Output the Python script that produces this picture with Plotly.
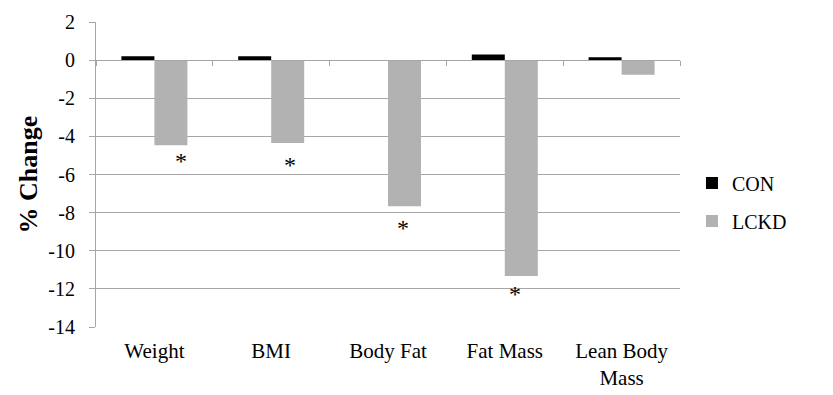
import plotly.graph_objects as go

categories = ["Weight", "BMI", "Body Fat", "Fat Mass", "Lean Body<br>Mass"]
con_values = [0.2, 0.2, 0.0, 0.3, 0.15]
lckd_values = [-4.46, -4.35, -7.66, -11.33, -0.77]
significant = [True, True, True, True, False]
y_ticks = list(range(-14, 3, 2))

# style-only offsets (pixels) for the asterisk labels
star_xshift = [10, 2, -2, -6, 0]
star_yshift = [-1, -7, -7, -3, 0]

SERIF = "Liberation Serif"
GRID = "#a6a6a6"

fig = go.Figure()
fig.add_trace(go.Bar(name="CON", x=categories, y=con_values,
                     marker=dict(color="#000000", line=dict(width=0)),
                     legendgroup="a"))
fig.add_trace(go.Bar(name="LCKD", x=categories, y=lckd_values,
                     marker=dict(color="#b2b2b2", line=dict(width=0)),
                     legendgroup="b"))
# invisible helper on the zero-line axis
fig.add_trace(go.Scatter(x=categories, y=[0]*len(categories), mode="none",
                         xaxis="x2", yaxis="y", showlegend=False, hoverinfo="skip"))

for i, (c, v, s) in enumerate(zip(categories, lckd_values, significant)):
    if s:
        fig.add_annotation(x=c, y=v, xref="x", yref="y", text="*",
                           showarrow=False, yanchor="top",
                           xshift=16.5 + star_xshift[i], yshift=star_yshift[i],
                           font=dict(family=SERIF, size=24, color="#000000"))

fig.add_annotation(x=-0.1164, y=0.5, xref="paper", yref="paper",
                   text="<b>% Change</b>", textangle=-90, showarrow=False,
                   xanchor="center", yanchor="middle",
                   font=dict(family=SERIF, size=26, color="#000000"))

fig.update_layout(
    width=825, height=387,
    margin=dict(l=88, r=153, t=14, b=68, autoexpand=False),
    paper_bgcolor="white", plot_bgcolor="white",
    barmode="group", bargap=0.435, bargroupgap=0,
    font=dict(family=SERIF, size=20, color="#000000"),
    showlegend=True,
    legend=dict(x=1.0205, y=0.41, xanchor="left", yanchor="middle",
                traceorder="grouped", tracegroupgap=9,
                font=dict(family=SERIF, size=20, color="#000000"),
                bgcolor="rgba(0,0,0,0)"),
    xaxis=dict(showline=False, ticks="", showgrid=False, zeroline=False,
               automargin=False,
               tickfont=dict(family=SERIF, size=21, color="#000000"),
               ticklabelstandoff=9),
    xaxis2=dict(overlaying="x", matches="x", anchor="free", position=0.875,
                showline=True, linecolor=GRID, linewidth=1, automargin=False,
                ticks="outside", tickson="boundaries", ticklen=5, tickcolor=GRID,
                showticklabels=False, showgrid=False, zeroline=False),
    yaxis=dict(range=[-14, 2], tickvals=y_ticks, ticktext=[str(t) for t in y_ticks],
               showline=True, linecolor=GRID, linewidth=1, automargin=False,
               ticks="outside", ticklen=6, tickcolor=GRID,
               showgrid=True, gridcolor=GRID, gridwidth=1, zeroline=False,
               ticklabelstandoff=10,
               tickfont=dict(family=SERIF, size=20, color="#000000")),
)

fig.write_html("out.html")
